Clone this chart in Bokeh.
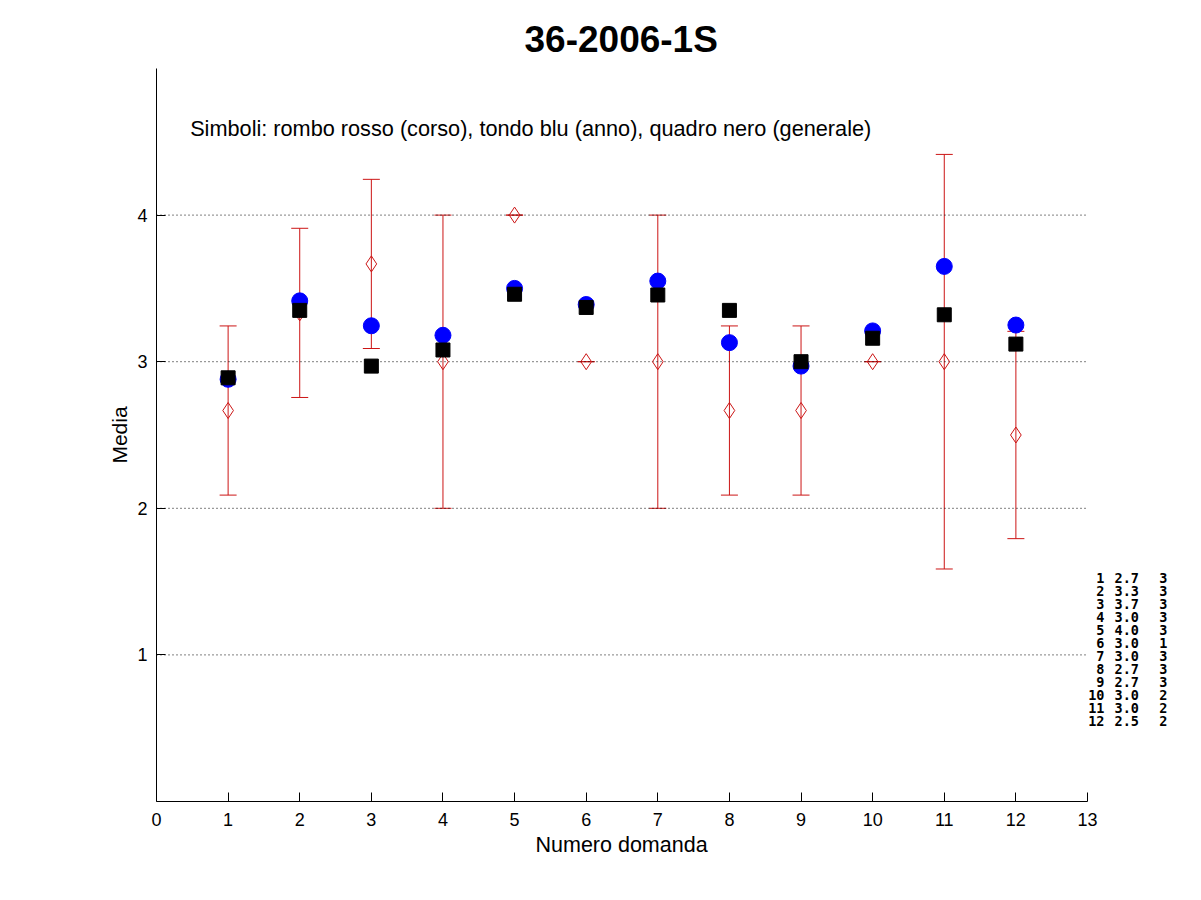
import numpy as np
from bokeh.plotting import figure
from bokeh.models import ColumnDataSource, Whisker, TeeHead, Label, FixedTicker, Range1d, Title
from bokeh.embed import file_html
from bokeh.resources import INLINE

# ---- data ----
domanda = [1, 2, 3, 4, 5, 6, 7, 8, 9, 10, 11, 12]
corso = [2.667, 3.333, 3.667, 3.0, 4.0, 3.0, 3.0, 2.667, 2.667, 3.0, 3.0, 2.5]
corso_std = [0.577, 0.577, 0.577, 1.0, 0.0, 0.0, 1.0, 0.577, 0.577, 0.0, 1.414, 0.707]
anno = [2.88, 3.415, 3.245, 3.18, 3.50, 3.39, 3.55, 3.13, 2.97, 3.21, 3.65, 3.25]
generale = [2.89, 3.35, 2.97, 3.08, 3.46, 3.37, 3.455, 3.35, 3.00, 3.16, 3.32, 3.12]
conteggio = [3, 3, 3, 3, 3, 1, 3, 3, 3, 2, 2, 2]
x_ticks = list(range(0, 14))
y_ticks = [1, 2, 3, 4]

RED = "#cc1515"
FONT = "Liberation Sans"

c = np.array(corso)
s = np.array(corso_std)
src = ColumnDataSource(dict(x=domanda, corso=corso, anno=anno, generale=generale,
                            upper=c + s, lower=c - s))

# frame: x=0 at 156px, x=13 at 1087px; extra room on the right for the side table
px_per_x = (1087 - 156) / 13.0
x_max = 13 + (1180 - 1087) / px_per_x

p = figure(width=1185, height=884, output_backend="svg", toolbar_location=None,
           x_range=Range1d(0, x_max), y_range=Range1d(0, 5),
           min_border_left=156, min_border_right=5, min_border_top=68, min_border_bottom=83)
p.title = Title(text="36-2006-1S", align="left", offset=368, text_font=FONT,
                text_font_size="37px", text_font_style="bold", text_color="black", standoff=18)
p.outline_line_color = None
p.background_fill_color = "white"
p.border_fill_color = "white"

p.xgrid.grid_line_color = None
p.ygrid.grid_line_color = None
# dotted horizontal grid limited to the 0..13 axis span
p.segment(x0=[x_ticks[0]] * len(y_ticks), x1=[x_ticks[-1]] * len(y_ticks), y0=y_ticks, y1=y_ticks,
          line_color="black", line_dash="1 3", line_width=1)

p.xaxis.ticker = FixedTicker(ticks=x_ticks)
p.xaxis.bounds = (0, 13)
p.yaxis.ticker = FixedTicker(ticks=y_ticks)
for ax in (p.xaxis[0], p.yaxis[0]):
    ax.major_tick_in = 9
    ax.major_tick_out = 0
    ax.minor_tick_line_color = None
    ax.axis_line_color = "black"
    ax.major_tick_line_color = "black"
    ax.major_label_text_font = FONT
    ax.major_label_text_font_size = "18px"
    ax.major_label_text_color = "black"
    ax.axis_label_text_font = FONT
    ax.axis_label_text_font_size = "21px"
    ax.axis_label_text_font_style = "normal"
    ax.axis_label_text_color = "black"
p.yaxis.axis_label = "Media"
p.xaxis.major_label_standoff = 11
p.yaxis.major_label_standoff = 9
p.yaxis.axis_label_standoff = 3

# x-axis label centred under the 0..13 span (frame extends further right for the table)
p.add_layout(Title(text="Numero domanda", align="left", offset=(619 - 156) - 84,
                   text_font=FONT, text_font_size="21.5px", text_font_style="normal",
                   text_color="black", standoff=5), "below")

# error bars
wh = Whisker(base="x", upper="upper", lower="lower", source=src, dimension="height",
             line_color=RED, line_width=1,
             upper_head=TeeHead(size=17, line_color=RED, line_width=1),
             lower_head=TeeHead(size=17, line_color=RED, line_width=1))
p.add_layout(wh)

p.scatter("x", "corso", source=src, marker="diamond", size=16, fill_color=None,
          line_color=RED, line_width=1)
p.scatter("x", "anno", source=src, marker="circle", size=16, fill_color="#0000ff",
          line_color="#0000ff")
p.scatter("x", "generale", source=src, marker="square", size=14, fill_color="black",
          line_color="black")

p.add_layout(Label(x=0.47, y=4.59, text="Simboli: rombo rosso (corso), tondo blu (anno), quadro nero (generale)",
                   text_font=FONT, text_font_size="21.7px", text_color="black",
                   text_baseline="middle", text_align="left"))

# side table
row_y0 = 1.527
row_dy = 0.0886
for i, (d, m, n) in enumerate(zip(domanda, corso, conteggio)):
    yy = row_y0 - i * row_dy
    for xx, txt, al in ((13.237, f"{d}", "right"), (13.377, f"{m:.1f}", "left"), (14.117, f"{n}", "right")):
        p.add_layout(Label(x=xx, y=yy, text=txt, text_font="DejaVu Sans Mono",
                           text_font_size="13.5px", text_font_style="bold",
                           text_color="black", text_baseline="middle", text_align=al))

open("out.html", "w").write(file_html(p, INLINE))
